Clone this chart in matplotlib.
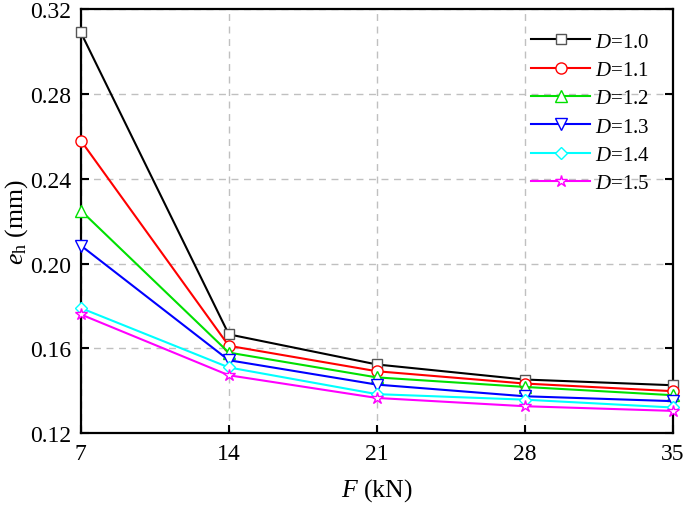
import matplotlib
matplotlib.use('Agg')
import matplotlib.pyplot as plt

plt.rcParams['font.family'] = ['Liberation Serif', 'DejaVu Serif']
plt.rcParams['mathtext.fontset'] = 'custom'
plt.rcParams['mathtext.rm'] = 'Liberation Serif'
plt.rcParams['mathtext.it'] = 'Liberation Serif:italic'

F = [7, 14, 21, 28, 35]
labels = ['1.0', '1.1', '1.2', '1.3', '1.4', '1.5']
eh = [
    [0.309, 0.1666, 0.1524, 0.1453, 0.1426],
    [0.258, 0.1612, 0.1492, 0.1434, 0.1398],
    [0.225, 0.1580, 0.1463, 0.1418, 0.1379],
    [0.2085, 0.1544, 0.1429, 0.1374, 0.1351],
    [0.179, 0.1510, 0.1384, 0.1358, 0.1321],
    [0.176, 0.1473, 0.1366, 0.1327, 0.1305],
]
colors = ['black', 'red', '#00e000', 'blue', 'cyan', 'magenta']
markers = ['s', 'o', '^', 'v', 'D', '*']
msizes = [7, 8, 8, 8, 6.5, 9]
mcolors = ['#555555', 'red', '#00e000', 'blue', 'cyan', 'magenta']

fig = plt.figure(figsize=(6.85, 5.06), dpi=100)
ax = fig.add_axes([0.118, 0.142, 0.864, 0.838])

for vals, lab, c, m, ms, mc in zip(eh, labels, colors, markers, msizes, mcolors):
    ax.plot(F, vals, color=c, lw=1.5, marker=m, ms=ms, mfc='white',
            mec=mc, mew=1.0, label='$D$=' + lab, clip_on=False, zorder=3)

ax.set_xlim(7, 35)
ax.set_ylim(0.12, 0.32)
ax.set_xticks(F)
ax.set_yticks([0.12, 0.16, 0.20, 0.24, 0.28, 0.32])
ax.set_yticklabels(['0.12', '0.16', '0.20', '0.24', '0.28', '0.32'])
ax.grid(True, color='#c0c0c0', ls=(0, (5, 4)), lw=1.0)
ax.tick_params(direction='in', length=6, width=1.5, labelsize=17,
               right=True, pad=7)
for s in ax.spines.values():
    s.set_linewidth(1.6)

ax.set_xlabel('$F$ (kN)', fontsize=18.5, labelpad=9)
ax.set_ylabel('$e_\\mathrm{h}$ (mm)', fontsize=18.5, labelpad=0)

leg = ax.legend(loc='upper right', frameon=False, fontsize=15,
                handlelength=2.8, labelspacing=0.42, handletextpad=0.25,
                borderaxespad=0.8, borderpad=0.3)

fig.savefig('out.png', dpi=100)
